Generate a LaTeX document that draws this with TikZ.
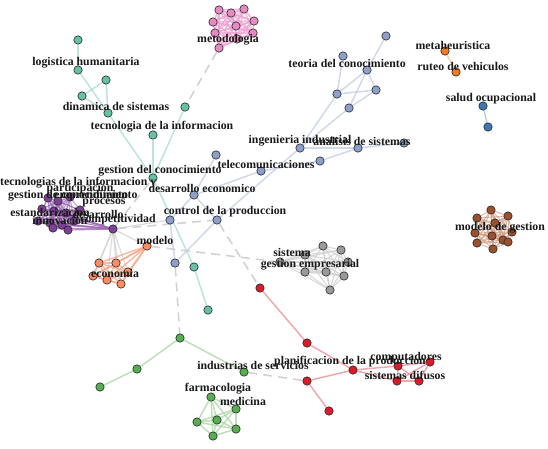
\documentclass[tikz,border=0pt]{standalone}
\usepackage{fontspec}
\setmainfont{Liberation Serif}
\pgfdeclarelayer{edges}
\pgfdeclarelayer{labels}
\pgfsetlayers{edges,main,labels}
\definecolor{tealF}{HTML}{66C2A5}\definecolor{tealE}{HTML}{A8DCC8}
\definecolor{pinkF}{HTML}{E78AC3}\definecolor{pinkE}{HTML}{EE9FD0}
\definecolor{blueF}{HTML}{8DA0CB}\definecolor{blueE}{HTML}{C2CBE6}
\definecolor{purpF}{HTML}{7E3F98}\definecolor{purpE}{HTML}{9A66B3}
\definecolor{orF}{HTML}{FC8D62}\definecolor{orE}{HTML}{F9A487}
\definecolor{grF}{HTML}{999999}\definecolor{grE}{HTML}{CFCFCF}
\definecolor{brF}{HTML}{9C4F2C}\definecolor{brE}{HTML}{CD9A80}
\definecolor{rdF}{HTML}{DC1A2A}\definecolor{rdE}{HTML}{EC8A94}
\definecolor{gnF}{HTML}{55AE50}\definecolor{gnE}{HTML}{A7D6A1}
\definecolor{o2F}{HTML}{F47A1F}\definecolor{o2E}{HTML}{F9C39B}
\definecolor{b2F}{HTML}{3C78B4}\definecolor{b2E}{HTML}{A3BFDB}
\definecolor{dashC}{HTML}{D2D2D2}
\tikzset{
  vt/.style={circle,draw=black!85,line width=0.6pt,minimum size=8.4pt,inner sep=0pt},
  ce/.style={line width=1.5pt,opacity=0.75},
  dl/.style={draw=dashC,line width=1.6pt,dash pattern=on 9pt off 6pt},
  lab/.style={font=\bfseries\fontsize{11.8}{12}\selectfont,inner sep=0pt,text=black!90}
}
\begin{document}
\begin{tikzpicture}[x=1pt,y=-1pt]
\useasboundingbox (0,0) rectangle (548,448);
% teal
\foreach \n/\x/\y in {1/78/40,2/78/70,3/106/80,4/82/96,5/108/113,6/185/107,7/153/135,8/153/178,9/194/267,10/208/310}
  \node[vt,fill=tealF] (t\n) at (\x,\y) {};
% pink
\foreach \n/\x/\y in {1/219/10,2/231/13,3/244/9,4/213/22,5/254/21,6/236/26,7/215/33,8/253/33,9/237/39,10/219/48}
  \node[vt,fill=pinkF] (p\n) at (\x,\y) {};
% blue
\foreach \n/\x/\y in {1/386/36,2/343/56,3/367/70,4/337/94,5/376/90,6/349/108,7/300/148,8/358/148,9/404/143,10/320/161,11/261/171,12/216/155,13/194/195,14/170/220,15/217/220,16/175/263}
  \node[vt,fill=blueF] (b\n) at (\x,\y) {};
% purple
\foreach \n/\x/\y in {1/48/198,2/58/201,3/70/197,4/42/209,5/54/211,6/66/213,7/80/210,8/38/221,9/50/223,10/62/225,11/74/221,12/53/228,13/68/230,14/113/229}
  \node[vt,fill=purpF] (u\n) at (\x,\y) {};
% orange
\foreach \n/\x/\y in {1/147/246,2/99/263,3/116/263,4/93/276,5/107/280,6/128/272,7/121/284}
  \node[vt,fill=orF] (o\n) at (\x,\y) {};
% gray
\foreach \n/\x/\y in {1/280/262,2/323/246,3/341/250,4/305/255,5/348/262,6/305/272,7/326/272,8/344/276,9/330/290}
  \node[vt,fill=grF] (g\n) at (\x,\y) {};
% brown
\foreach \n/\x/\y in {1/491/210,2/477/218,3/508/216,4/495/223,5/475/233,6/512/232,7/492/236,8/503/240,9/477/243,10/508/242,11/493/249}
  \node[vt,fill=brF] (w\n) at (\x,\y) {};
% red
\foreach \n/\x/\y in {1/260/288,2/307/343,3/307/381,4/329/411,5/353/370,6/398/366,7/430/362,8/397/381,9/419/381}
  \node[vt,fill=rdF] (r\n) at (\x,\y) {};
% green
\foreach \n/\x/\y in {1/180/338,2/137/369,3/100/387,4/244/372,5/211/397,6/236/409,7/197/422,8/217/420,9/236/429,10/213/436}
  \node[vt,fill=gnF] (n\n) at (\x,\y) {};
% small pairs
\node[vt,fill=o2F] (m1) at (445,51) {};
\node[vt,fill=o2F] (m2) at (456,72) {};
\node[vt,fill=b2F] (s1) at (483,106) {};
\node[vt,fill=b2F] (s2) at (488,127) {};

\begin{pgfonlayer}{edges}
% dashed inter-cluster
\draw[dl] (p10) -- (t6);
\draw[dl] (b16) -- (n1);
\draw[dl] (b15) -- (r1);
\draw[dl] (n4) -- (r3);
\draw[dl] (o1) -- (g1);
\draw[dl] (u14) -- (b15);
\draw[dl] (u14) -- (t8);
% teal
\foreach \a/\b in {1/2,2/5,3/4,3/5,4/5,5/8,7/8,6/8,8/9,9/10}
  \draw[ce,tealE] (t\a) -- (t\b);
% pink
\foreach \i in {1,...,10}{\foreach \j in {\i,...,10}{\ifnum\i<\j \draw[ce,pinkE,opacity=0.7] (p\i) -- (p\j);\fi}}
% blue
\foreach \a/\b in {1/3,2/4,3/4,3/5,3/6,4/5,5/6,4/7,6/7,7/8,8/9,8/10,10/11,11/13,7/15,12/13,13/14,13/15,15/16,14/16}
  \draw[ce,blueE] (b\a) -- (b\b);
% purple
\foreach \i in {1,...,13}{\foreach \j in {\i,...,13}{\ifnum\i<\j \draw[ce,purpE,opacity=0.6,line width=1.1pt] (u\i) -- (u\j);\fi}}
\foreach \i in {4,5,6,8,9,10,11,12,13}{\draw[ce,purpE,line width=1.2pt] (u\i) -- (u14);}
% gray from competitividad
\foreach \i in {1,...,7}{\draw[ce,grE,line width=1.2pt] (u14) -- (o\i);}
\draw[ce,grE,line width=1.2pt] (u14) -- (b14);
% orange
\foreach \i in {1,...,7}{\foreach \j in {\i,...,7}{\ifnum\i<\j \draw[ce,orE] (o\i) -- (o\j);\fi}}
% gray cluster
\foreach \i in {1,...,9}{\foreach \j in {\i,...,9}{\ifnum\i<\j \draw[ce,grE,line width=1.2pt] (g\i) -- (g\j);\fi}}
% brown
\foreach \i in {1,...,11}{\foreach \j in {\i,...,11}{\ifnum\i<\j \draw[ce,brE,opacity=0.7,line width=1pt] (w\i) -- (w\j);\fi}}
% red
\foreach \a/\b in {1/2,2/5,3/5,3/4,5/6,5/8,6/7,6/9,7/9,8/9,6/8,7/8}
  \draw[ce,rdE] (r\a) -- (r\b);
% green
\foreach \a/\b in {1/2,2/3,1/4}
  \draw[ce,gnE] (n\a) -- (n\b);
\foreach \i in {5,...,10}{\foreach \j in {\i,...,10}{\ifnum\i<\j \draw[ce,gnE] (n\i) -- (n\j);\fi}}
\draw[ce,o2E] (m1) -- (m2);
\draw[ce,b2E] (s1) -- (s2);
\end{pgfonlayer}

\begin{pgfonlayer}{labels}
\node[lab] (L1) at (86,63) {logistica humanitaria};
\node[lab] (L2) at (116,106) {dinamica de sistemas};
\node[lab] (L3) at (162,127) {tecnologia de la informacion};
\node[lab] (L4) at (160,171) {gestion del conocimiento};
\node[lab] (L5) at (228,40) {metodologia};
\node[lab] (L6) at (347,63) {teoria del conocimiento};
\node[lab] (L7) at (300,141) {ingenieria industrial};
\node[lab] (L8) at (362,141) {analisis de sistemas};
\node[lab] (L9) at (266,164) {telecomunicaciones};
\node[lab] (L10) at (202,188) {desarrollo economico};
\node[lab] (L11) at (225,212) {control de la produccion};
\node[lab,anchor=west] (L12) at (0,183) {tecnologias de la informacion y};
\node[lab] (L13) at (80,189) {participacion};
\node[lab] (L14) at (68,196) {gestion de conocimiento};
\node[lab] (L15) at (96,196) {emprendimiento};
\node[lab] (L16) at (104,203) {procesos};
\node[lab] (L17) at (50,212) {estandarizacion};
\node[lab] (L18) at (98,214) {desarrollo};
\node[lab] (L19) at (60,220) {innovacion};
\node[lab] (L20) at (118,220) {competitividad};
\node[lab] (L21) at (155,240) {modelo};
\node[lab] (L22) at (115,273) {economia};
\node[lab] (L23) at (292,252) {sistema};
\node[lab] (L24) at (310,265) {gestion empresarial};
\node[lab] (L25) at (500,228) {modelo de gestion};
\node[lab] (L26) at (453,45) {metaheuristica};
\node[lab] (L27) at (463,66) {ruteo de vehiculos};
\node[lab] (L28) at (491,99) {salud ocupacional};
\node[lab] (L29) at (253,365) {industrias de servicios};
\node[lab] (L30) at (350,362) {planificacion de la produccion};
\node[lab] (L31) at (406,358) {computadores};
\node[lab] (L32) at (405,375) {sistemas difusos};
\node[lab] (L33) at (218,389) {farmacologia};
\node[lab] (L34) at (243,401) {medicina};
\end{pgfonlayer}
\end{tikzpicture}
\end{document}
